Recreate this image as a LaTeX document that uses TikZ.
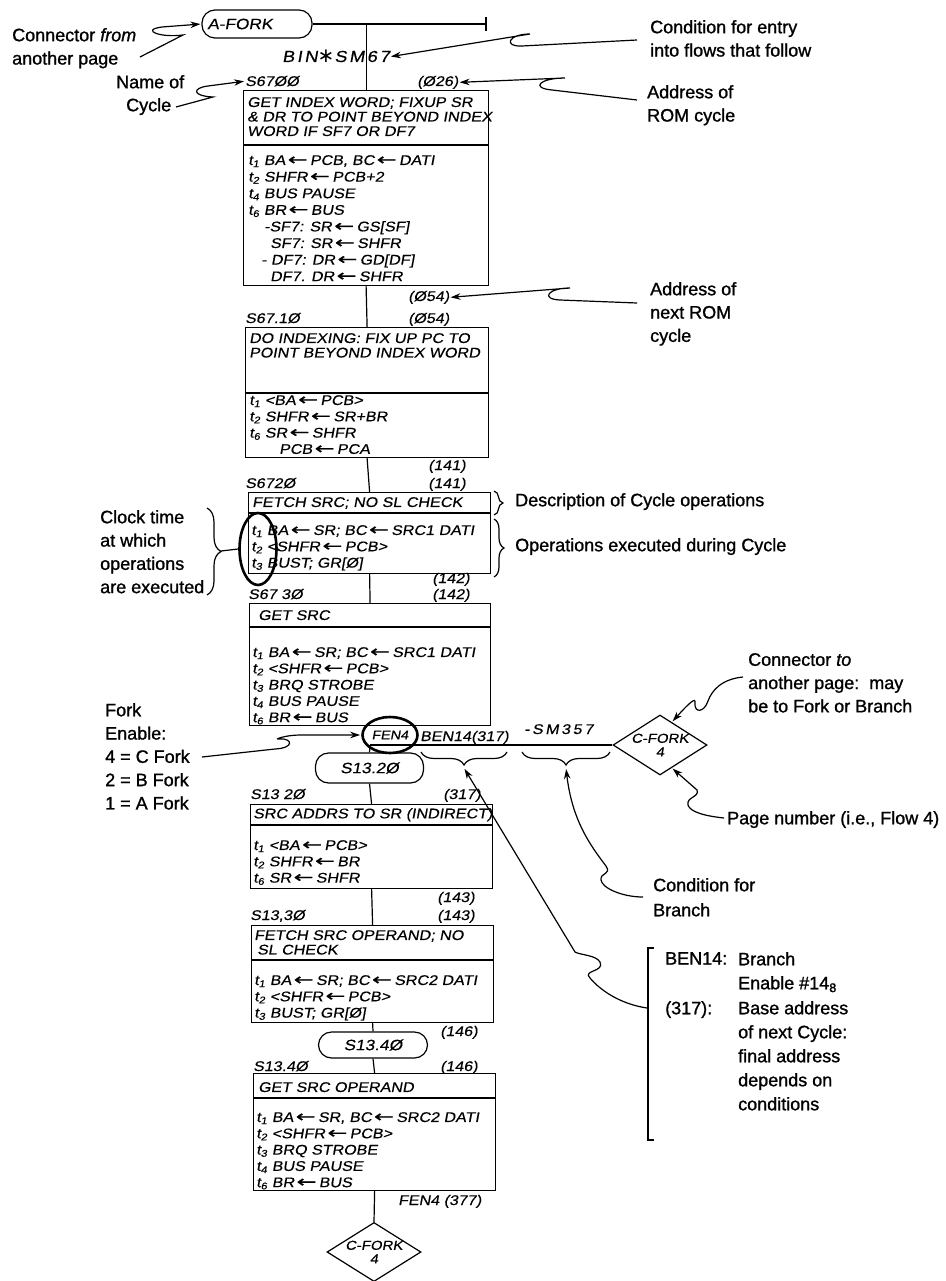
\documentclass[tikz,border=0pt]{standalone}
\usepackage{fontspec}
\setmainfont{Liberation Sans}
\newfontfamily\hand[FakeStretch=1.15,FakeSlant=0.18,FakeBold=0.4]{Liberation Sans}
\newfontfamily\handarr[FakeBold=0.5]{DejaVu Sans}
\newfontfamily\note[FakeBold=1.1]{Liberation Sans}
\newfontfamily\djv{DejaVu Sans}
\newcommand\hla{\,\scalebox{1.7}[1.15]{\handarr ←}\,}
\usetikzlibrary{shapes.geometric,arrows.meta,decorations.pathreplacing,calc}
\begin{document}
\begin{tikzpicture}[
  x=1pt,y=-1pt,
  every node/.style={inner sep=0pt},
  cyclebox/.style={draw,line width=1.2pt,anchor=north west},
  desc/.style={font=\hand\fontsize{14}{14.5}\selectfont,anchor=north west,align=left},
  ops/.style={font=\hand\fontsize{14}{16.3}\selectfont,anchor=north west,align=left},
  lbl/.style={font=\hand\fontsize{14}{16}\selectfont,anchor=base west},
  conn/.style={draw,line width=1.2pt,rounded corners=13pt,font=\hand\fontsize{15}{16}\selectfont},
  offpage/.style={draw,diamond,line width=1.2pt,aspect=1.57,align=center,font=\hand\fontsize{13}{13.5}\selectfont},
  ann/.style={font=\note\fontsize{18}{23.3}\selectfont,anchor=north west,align=left},
  ptr/.style={line width=1.2pt,shorten >=1pt,-{Stealth[length=10pt,width=6.5pt]}},
  fat/.style={draw,ellipse,line width=2.6pt},
  flow/.style={line width=1.2pt},
  brc/.style={line width=1.2pt,decorate,decoration={brace,amplitude=#1}},
]
\useasboundingbox (0,0) rectangle (945,1281);

% ---------- top connector ----------
\node[conn,minimum width=110pt,minimum height=28pt] (afork) at (257,24) {A-FORK\hspace*{34pt}};
\coordinate (tick) at (486,24);
\draw[flow] (afork.east) -- (tick);
\draw[flow] ([yshift=7pt]tick) -- ([yshift=-7pt]tick);
\node[lbl,font=\hand\fontsize{16}{17}\selectfont\addfontfeature{LetterSpace=15}] (bin) at (282,62) {BIN\raisebox{-1pt}{\djv\fontsize{20}{20}\selectfont ∗}SM67};

% ---------- cycle boxes ----------
\node[cyclebox,minimum width=245pt,minimum height=195pt] (c1) at (243,90) {};
\draw[flow] (c1.west |- 0,145) -- (c1.east |- 0,145);
\node[cyclebox,minimum width=243pt,minimum height=130pt] (c2) at (245,327) {};
\draw[flow] (c2.west |- 0,393) -- (c2.east |- 0,393);
\node[cyclebox,minimum width=242pt,minimum height=81pt] (c3) at (248,492) {};
\draw[flow] (c3.west |- 0,513) -- (c3.east |- 0,513);
\node[cyclebox,minimum width=241pt,minimum height=122pt] (c4) at (249,603) {};
\draw[flow] (c4.west |- 0,627) -- (c4.east |- 0,627);
\node[cyclebox,minimum width=242pt,minimum height=84pt] (c5) at (250,804) {};
\draw[flow] (c5.west |- 0,825) -- (c5.east |- 0,825);
\node[cyclebox,minimum width=242pt,minimum height=97pt] (c6) at (251,925) {};
\draw[flow] (c6.west |- 0,960) -- (c6.east |- 0,960);
\node[cyclebox,minimum width=242pt,minimum height=117pt] (c7) at (253,1073) {};
\draw[flow] (c7.west |- 0,1098) -- (c7.east |- 0,1098);

% ---------- box texts ----------
\node[desc] (d1) at (247,97) {GET INDEX WORD; FIXUP SR\\\& DR TO POINT BEYOND INDEX\\WORD IF SF7 OR DF7};
\node[ops,font=\hand\fontsize{14}{16.6}\selectfont] (o1) at (248,155) {t\textsubscript{1} BA\hla PCB, BC\hla DATI\\t\textsubscript{2} SHFR\hla PCB+2\\t\textsubscript{4} BUS PAUSE\\t\textsubscript{6} BR\hla BUS\\\hspace*{16pt}-SF7: SR\hla GS[SF]\\\hspace*{22pt}SF7: SR\hla SHFR\\\hspace*{13pt}- DF7: DR\hla GD[DF]\\\hspace*{22pt}DF7. DR\hla SHFR};
\node[desc] (d2) at (249,333) {DO INDEXING: FIX UP PC TO\\POINT BEYOND INDEX WORD};
\node[ops] (o2) at (249,395) {t\textsubscript{1} <BA\hla PCB>\\t\textsubscript{2} SHFR\hla SR+BR\\t\textsubscript{6} SR\hla SHFR\\\hspace*{30pt}PCB\hla PCA};
\node[desc] (d3) at (252,497) {FETCH SRC; NO SL CHECK};
\node[ops] (o3) at (251,525) {t\textsubscript{1} BA\hla SR; BC\hla SRC1 DATI\\t\textsubscript{2} <SHFR\hla PCB>\\t\textsubscript{3} BUST; GR[Ø]};
\node[desc] (d4) at (258,610) {GET SRC};
\node[ops] (o4) at (252,647) {t\textsubscript{1} BA\hla SR; BC\hla SRC1 DATI\\t\textsubscript{2} <SHFR\hla PCB>\\t\textsubscript{3} BRQ STROBE\\t\textsubscript{4} BUS PAUSE\\t\textsubscript{6} BR\hla BUS};
\node[desc] (d5) at (253,808) {SRC ADDRS TO SR (INDIRECT)};
\node[ops] (o5) at (253,840) {t\textsubscript{1} <BA\hla PCB>\\t\textsubscript{2} SHFR\hla BR\\t\textsubscript{6} SR\hla SHFR};
\node[desc] (d6) at (254,930) {FETCH SRC OPERAND; NO\\\hspace*{3pt}SL CHECK};
\node[ops] (o6) at (254,975) {t\textsubscript{1} BA\hla SR; BC\hla SRC2 DATI\\t\textsubscript{2} <SHFR\hla PCB>\\t\textsubscript{3} BUST; GR[Ø]};
\node[desc] (d7) at (258,1082) {GET SRC OPERAND};
\node[ops] (o7) at (256,1112) {t\textsubscript{1} BA\hla SR, BC\hla SRC2 DATI\\t\textsubscript{2} <SHFR\hla PCB>\\t\textsubscript{3} BRQ STROBE\\t\textsubscript{4} BUS PAUSE\\t\textsubscript{6} BR\hla BUS};

% ---------- cycle names and addresses ----------
\node[lbl] (n1) at (245,86) {S67ØØ};
\node[lbl] (a26) at (417,86) {(Ø26)};
\node[lbl] (a54u) at (408,301) {(Ø54)};
\node[lbl] (n2) at (245,323) {S67.1Ø};
\node[lbl] (a54) at (408,323) {(Ø54)};
\node[lbl] (a141u) at (428,470) {(141)};
\node[lbl] (n3) at (245,488) {S672Ø};
\node[lbl] (a141) at (428,488) {(141)};
\node[lbl] (a142u) at (432,583) {(142)};
\node[lbl] (n4) at (248,599) {S67 3Ø};
\node[lbl] (a142) at (432,599) {(142)};
\node[lbl] (n5) at (250,799) {S13 2Ø};
\node[lbl] (a317) at (443,799) {(317)};
\node[lbl] (a143u) at (437,902) {(143)};
\node[lbl] (n6) at (250,920) {S13,3Ø};
\node[lbl] (a143) at (437,920) {(143)};
\node[lbl] (a146u) at (440,1036) {(146)};
\node[lbl] (n7) at (253,1071) {S13.4Ø};
\node[lbl] (a146) at (440,1071) {(146)};
\node[lbl] (fen377) at (398,1205) {FEN4 (377)};

% ---------- fork row ----------
\node[fat,minimum width=55pt,minimum height=36pt,font=\hand\fontsize{12.5}{13}\selectfont] (fen) at (390,735) {FEN4};
\node[lbl] (ben) at (420,741) {BEN14(317)};
\node[lbl,font=\hand\fontsize{14}{16}\selectfont\addfontfeature{LetterSpace=18}] (sm) at (524,734) {-SM357};
\node[offpage,minimum width=94pt,minimum height=60pt] (cf1) at (660,745) {C-FORK\\4};
\coordinate (fenj) at (c4.south |- cf1.west);
\draw[flow] (fenj) -- (cf1.west);
\node[conn,minimum width=108pt,minimum height=30pt] (s132) at (369.5,768) {S13.2Ø};
\draw[flow] (fenj) -- (s132.north);
\draw[brc=13] (507,752) -- (421,752);
\draw[brc=13] (610,752) -- (522,752);
\coordinate (bt1) at (464,768);
\coordinate (bt2) at (566,768);

\node[conn,minimum width=109pt,minimum height=26pt] (s134) at (373,1045) {S13.4Ø};
\node[offpage,minimum width=94pt,minimum height=57pt] (cf2) at (374,1252) {C-FORK\\4};

% ---------- spine ----------
\coordinate (j0) at (c1.north |- afork.east);
\draw[flow] (j0) -- (c1.north);
\draw[flow] (c1.south) -- (c2.north);
\draw[flow] (c2.south) -- (c3.north);
\draw[flow] (c3.south) -- (c4.north);
\draw[flow] (s132.south) -- (c5.north);
\draw[flow] (c5.south) -- (c6.north);
\draw[flow] (c6.south) -- (s134.north);
\draw[flow] (s134.south) -- (c7.north);
\draw[flow] (c7.south) -- (cf2.north);

% ---------- clock ellipse and braces ----------
\node[fat,minimum width=37pt,minimum height=72pt] (clk) at (258,549) {};
\draw[brc=14] (207,508) -- (207,595);
\coordinate (cbt) at (221,551);
\draw[flow] (cbt) -- (clk.west);
\draw[brc=9] (494,491) -- (494,515);
\draw[brc=10] (494,519) -- (494,577);

% ---------- annotations ----------
\node[ann] (tfrom) at (12,28) {Connector \textit{from}\\another page};
\coordinate (pf) at (140,57);
\draw[ptr] (pf) -- (183,35) .. controls (160,38) and (140,30) .. (162,27) -- (afork.west);

\node[ann] (tname) at (116,75) {Name of};
\node[ann] (tcyc) at (126,98) {Cycle};
\coordinate (pn) at (176,107);
\draw[ptr] (pn) -- (213,97) .. controls (192,96) and (192,88) .. (208,86) -- (n1.west);

\node[ann] (tcond) at (650,20) {Condition for entry\\into flows that follow};
\coordinate (pc) at (637,40);
\draw[ptr] (pc) -- (522,46) .. controls (503,47) and (508,34) .. (530,34) -- (bin.east);

\node[ann] (taddr) at (647,85) {Address of\\ROM cycle};
\coordinate (pa) at (637,100);
\draw[ptr] (pa) -- (552,90) .. controls (530,88) and (540,78) .. (565,78) -- (a26.east);

\node[ann] (tnext) at (650,282) {Address of\\next ROM\\cycle};
\coordinate (pn2) at (637,303);
\draw[ptr] (pn2) -- (560,300) .. controls (540,299) and (548,288) .. (570,288) -- (a54u.east);

\node[ann] (tdesc) at (515,493) {Description of Cycle operations};
\node[ann] (tops) at (515,538) {Operations executed during Cycle};
\node[ann] (tclk) at (100,510) {Clock time\\at which\\operations\\are executed};

\node[ann] (tfork) at (105,703) {Fork\\Enable:\\4 = C Fork\\2 = B Fork\\1 = A Fork};
\coordinate (pfk) at (202,757);
\draw[ptr] (pfk) -- (275,749) .. controls (295,748) and (292,738) .. (280,739) .. controls (272,740) and (285,735) .. (300,735) -- (fen.west);

\node[ann] (tto) at (748,653) {Connector \textit{to}\\another page:\ \ may\\be to Fork or Branch};
\coordinate (pt) at (743,677);
\draw[ptr] (pt) .. controls (722,679) and (712,690) .. (708,701) .. controls (704,713) and (694,713) .. (695,703) .. controls (696,697) and (690,702) .. ($(cf1.north)!0.25!(cf1.east)$);

\node[ann] (tpage) at (727,811) {Page number (i.e., Flow 4)};
\coordinate (pp) at (724,818);
\draw[ptr] (pp) .. controls (705,816) and (690,812) .. (688,805) .. controls (686,797) and (700,797) .. (697,790) -- ($(cf1.south)!0.25!(cf1.east)$);

\node[ann,font=\note\fontsize{18}{25}\selectfont] (tcb) at (653,878) {Condition for\\Branch};
\coordinate (pcb) at (643,897);
\draw[ptr] (pcb) .. controls (622,897) and (602,888) .. (601,880) .. controls (600,872) and (612,875) .. (606,866) .. controls (590,845) and (572,820) .. (bt2);

\draw[flow] (654,948) -- (648,948) -- (648,1140) -- (654,1140);
\node[ann,font=\note\fontsize{18}{24}\selectfont] (tben) at (665,952) {BEN14:};
\node[ann,font=\note\fontsize{18}{24}\selectfont] (tbr) at (738,952) {Branch\\Enable \#14\textsubscript{8}};
\node[ann,font=\note\fontsize{18}{24}\selectfont] (t317) at (665,1001) {(317):};
\node[ann,font=\note\fontsize{18}{24}\selectfont] (tbase) at (738,1001) {Base address\\of next Cycle:\\final address\\depends on\\conditions};
\coordinate (pb) at (647,1008);
\draw[ptr] (pb) .. controls (620,1004) and (600,990) .. (590,978) .. controls (582,970) and (605,972) .. (600,962) .. controls (596,955) and (580,955) .. (575,952) -- (bt1);
\end{tikzpicture}
\end{document}
